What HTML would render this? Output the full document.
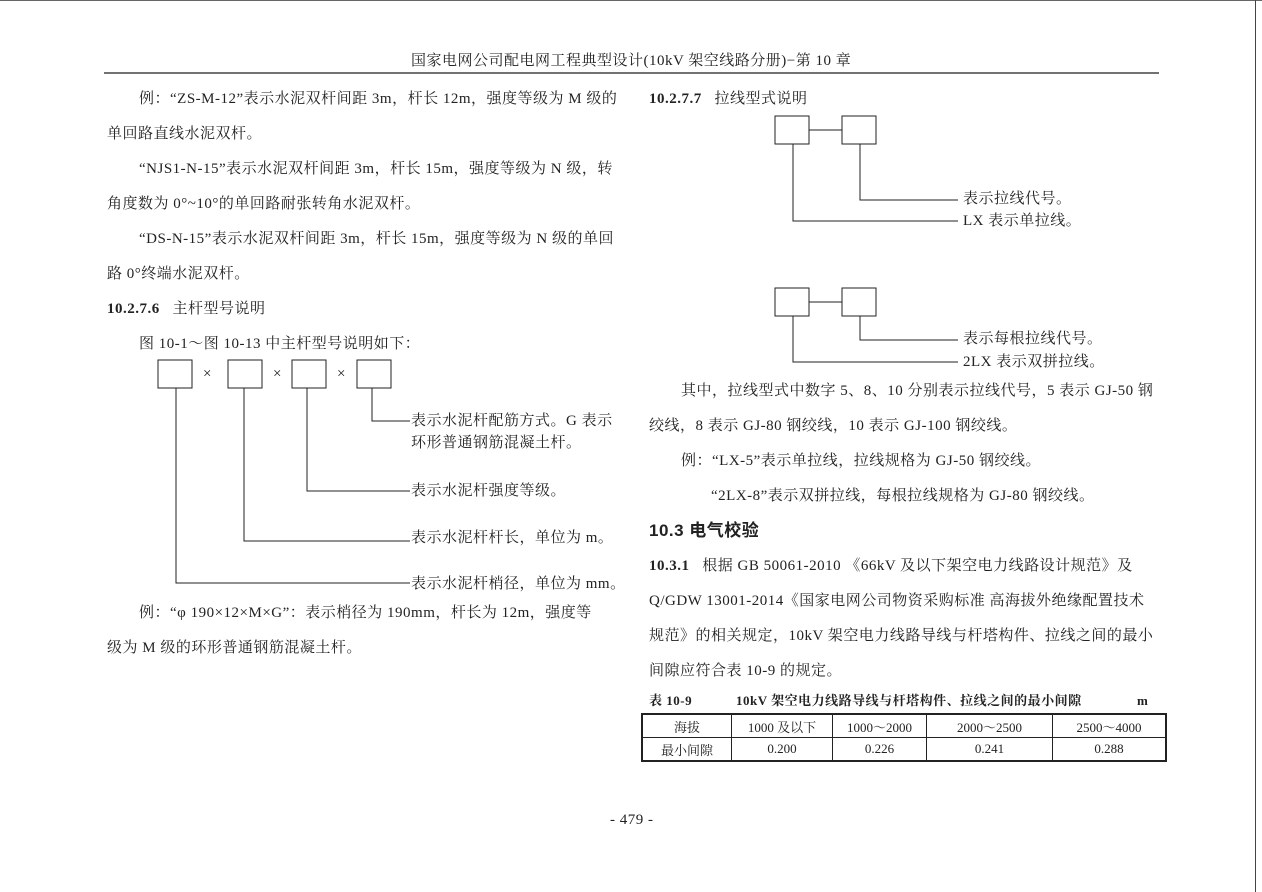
<!DOCTYPE html>
<html><head><meta charset="utf-8"><style>
html,body{margin:0;padding:0;background:#fff;}
body{width:1262px;height:892px;position:relative;overflow:hidden;font-family:"Liberation Serif","Noto Serif CJK SC",serif;font-size:15px;color:#222;}
.t{position:absolute;white-space:nowrap;line-height:18px;letter-spacing:0.5px;}
.b{font-weight:bold;}
svg{position:absolute;left:0;top:0;}
table{position:absolute;left:641px;top:713px;border-collapse:collapse;border:2px solid #222;font-size:13px;}
td{border:1px solid #222;text-align:center;height:22px;padding:0;}
</style></head><body>
<svg width="1262" height="892">
<line x1="0" y1="0.5" x2="1262" y2="0.5" stroke="#666"/>
<line x1="1255.5" y1="0" x2="1255.5" y2="892" stroke="#444"/>
<line x1="104" y1="73" x2="1159" y2="73" stroke="#444" stroke-width="1.5"/>
<g fill="none" stroke="#222" stroke-width="1">
<rect x="158" y="360" width="34" height="28"/>
<rect x="228" y="360" width="34" height="28"/>
<rect x="292" y="360" width="34" height="28"/>
<rect x="357" y="360" width="34" height="28"/>
<polyline points="372,388 372,421 410,421"/>
<polyline points="307,388 307,491 410,491"/>
<polyline points="244,388 244,541 410,541"/>
<polyline points="176,388 176,583 410,583"/>
<rect x="775" y="116" width="34" height="28"/>
<rect x="842" y="116" width="34" height="28"/>
<line x1="809" y1="130" x2="842" y2="130"/>
<polyline points="860,144 860,200 958,200"/>
<polyline points="793,144 793,221 958,221"/>
<rect x="775" y="288" width="34" height="28"/>
<rect x="842" y="288" width="34" height="28"/>
<line x1="809" y1="302" x2="842" y2="302"/>
<polyline points="860,316 860,340 958,340"/>
<polyline points="793,316 793,362 958,362"/>
</g>
</svg>
<div class="t" style="left:411px;top:52px;">国家电网公司配电网工程典型设计(10kV 架空线路分册)−第 10 章</div>
<div class="t" style="left:139px;top:90px;">例：“ZS-M-12”表示水泥双杆间距 3m，杆长 12m，强度等级为 M 级的</div>
<div class="t" style="left:107px;top:125px;">单回路直线水泥双杆。</div>
<div class="t" style="left:139px;top:160px;">“NJS1-N-15”表示水泥双杆间距 3m，杆长 15m，强度等级为 N 级，转</div>
<div class="t" style="left:107px;top:195px;">角度数为 0°~10°的单回路耐张转角水泥双杆。</div>
<div class="t" style="left:139px;top:230px;">“DS-N-15”表示水泥双杆间距 3m，杆长 15m，强度等级为 N 级的单回</div>
<div class="t" style="left:107px;top:265px;">路 0°终端水泥双杆。</div>
<div class="t" style="left:107px;top:300px;"><span class="b">10.2.7.6</span>&nbsp;&nbsp; 主杆型号说明</div>
<div class="t" style="left:139px;top:335px;">图 10-1～图 10-13 中主杆型号说明如下：</div>
<div class="t" style="left:203px;top:365px;">×</div>
<div class="t" style="left:273px;top:365px;">×</div>
<div class="t" style="left:337px;top:365px;">×</div>
<div class="t" style="left:411px;top:412px;">表示水泥杆配筋方式。G 表示</div>
<div class="t" style="left:411px;top:434px;">环形普通钢筋混凝土杆。</div>
<div class="t" style="left:411px;top:482px;">表示水泥杆强度等级。</div>
<div class="t" style="left:411px;top:529px;">表示水泥杆杆长，单位为 m。</div>
<div class="t" style="left:411px;top:575px;">表示水泥杆梢径，单位为 mm。</div>
<div class="t" style="left:139px;top:604px;">例：“φ 190×12×M×G”：表示梢径为 190mm，杆长为 12m，强度等</div>
<div class="t" style="left:107px;top:639px;">级为 M 级的环形普通钢筋混凝土杆。</div>

<div class="t" style="left:649px;top:90px;"><span class="b">10.2.7.7</span>&nbsp;&nbsp; 拉线型式说明</div>
<div class="t" style="left:963px;top:190px;">表示拉线代号。</div>
<div class="t" style="left:963px;top:212px;">LX 表示单拉线。</div>
<div class="t" style="left:963px;top:330px;">表示每根拉线代号。</div>
<div class="t" style="left:963px;top:353px;">2LX 表示双拼拉线。</div>
<div class="t" style="left:681px;top:382px;">其中，拉线型式中数字 5、8、10 分别表示拉线代号，5 表示 GJ-50 钢</div>
<div class="t" style="left:649px;top:417px;">绞线，8 表示 GJ-80 钢绞线，10 表示 GJ-100 钢绞线。</div>
<div class="t" style="left:681px;top:452px;">例：“LX-5”表示单拉线，拉线规格为 GJ-50 钢绞线。</div>
<div class="t" style="left:711px;top:487px;">“2LX-8”表示双拼拉线，每根拉线规格为 GJ-80 钢绞线。</div>
<div class="t b" style="left:649px;top:522px;font-size:17px;font-family:'Liberation Sans','Noto Sans CJK SC',sans-serif;">10.3 电气校验</div>
<div class="t" style="left:649px;top:557px;"><span class="b">10.3.1</span>&nbsp;&nbsp; 根据 GB 50061-2010 《66kV 及以下架空电力线路设计规范》及</div>
<div class="t" style="left:649px;top:592px;">Q/GDW 13001-2014《国家电网公司物资采购标准 高海拔外绝缘配置技术</div>
<div class="t" style="left:649px;top:627px;">规范》的相关规定，10kV 架空电力线路导线与杆塔构件、拉线之间的最小</div>
<div class="t" style="left:649px;top:662px;">间隙应符合表 10-9 的规定。</div>
<div class="t b" style="left:649px;top:692px;font-size:13px;">表 10-9</div>
<div class="t b" style="left:736px;top:692px;font-size:13px;">10kV 架空电力线路导线与杆塔构件、拉线之间的最小间隙</div>
<div class="t b" style="left:1137px;top:692px;font-size:13px;">m</div>
<table>
<tr><td style="width:88px">海拔</td><td style="width:100px">1000 及以下</td><td style="width:93px">1000～2000</td><td style="width:125px">2000～2500</td><td style="width:112px">2500～4000</td></tr>
<tr><td>最小间隙</td><td>0.200</td><td>0.226</td><td>0.241</td><td>0.288</td></tr>
</table>
<div class="t" style="left:610px;top:811px;">- 479 -</div>
</body></html>
